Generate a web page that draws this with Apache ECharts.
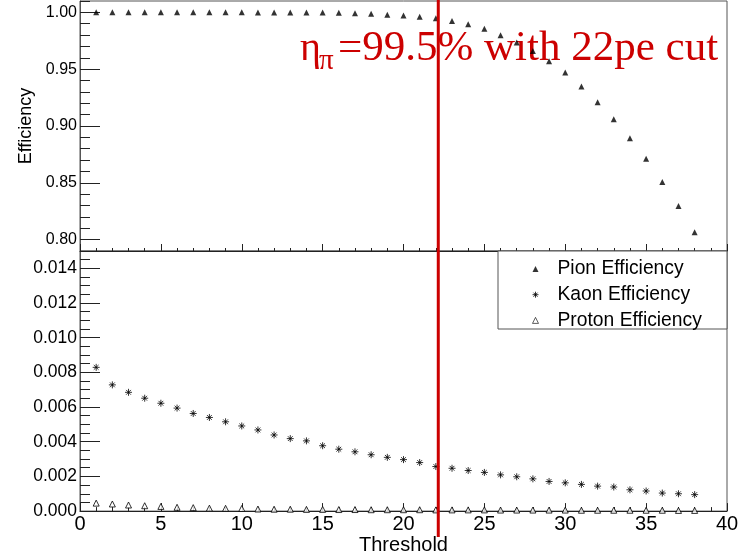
<!DOCTYPE html>
<html>
<head>
<meta charset="utf-8">
<script src="https://cdn.jsdelivr.net/npm/echarts@6/dist/echarts.min.js"></script>
<style>
html,body{margin:0;padding:0;background:#fff;}
#chart{width:742px;height:556px;}
</style>
</head>
<body>
<div id="chart"></div>
<script>
// ---- data ----
const thresholds = [1,2,3,4,5,6,7,8,9,10,11,12,13,14,15,16,17,18,19,20,21,22,23,24,25,26,27,28,29,30,31,32,33,34,35,36,37,38];
const pionEff = [1.0000,1.0000,1.0000,1.0000,1.0000,1.0000,1.0000,1.0000,1.0000,1.0000,
  0.9999,0.9999,0.9999,0.9998,0.9998,0.9996,0.9992,0.9988,0.9980,0.9972,
  0.9962,0.9948,0.9925,0.9895,0.9855,0.9798,0.9735,0.9660,0.9570,0.9470,
  0.9348,0.9210,0.9060,0.8893,0.8712,0.8507,0.8296,0.8065];
const kaonEff = [0.00829,0.00728,0.00685,0.00651,0.00622,0.00594,0.00563,0.00540,0.00515,0.00491,
  0.00468,0.00439,0.00418,0.00405,0.00377,0.00357,0.00342,0.00325,0.00310,0.00297,
  0.00280,0.00257,0.00247,0.00234,0.00223,0.00209,0.00198,0.00186,0.00171,0.00163,
  0.00154,0.00144,0.00139,0.00123,0.00116,0.00104,0.00100,0.00095];
const protonEff = [0.00046,0.00041,0.00035,0.00031,0.00027,0.00022,0.00020,0.00017,0.00016,0.00015,
  0.00012,0.00011,0.00011,0.00010,0.00010,0.00009,0.00009,0.00008,0.00008,0.00008,
  0.00008,0.00007,0.00007,0.00007,0.00007,0.00006,0.00006,0.00006,0.00006,0.00006,
  0.00005,0.00005,0.00005,0.00005,0.00005,0.00005,0.00004,0.00004];
const seriesNames = ['Pion Efficiency','Kaon Efficiency','Proton Efficiency'];
const topMajorTicks = [0.80,0.85,0.90,0.95,1.00];
const topMinorTicks = [0.79,0.80,0.81,0.82,0.83,0.84,0.85,0.86,0.87,0.88,0.89,0.90,0.91,0.92,0.93,0.94,0.95,0.96,0.97,0.98,0.99,1.00,1.01];
const bottomMajorTicks = [0.000,0.002,0.004,0.006,0.008,0.010,0.012,0.014];
const bottomMinorTicks = [0.0000,0.0005,0.0010,0.0015,0.0020,0.0025,0.0030,0.0035,0.0040,0.0045,0.0050,0.0055,0.0060,0.0065,0.0070,0.0075,0.0080,0.0085,0.0090,0.0095,0.0100,0.0105,0.0110,0.0115,0.0120,0.0125,0.0130,0.0135,0.0140,0.0145,0.0150];
const cutLineX = 22.15;
const annotationEta = 'η';
const annotationSub = 'π';
const annotationRest = '=99.5% with 22pe cut';

// ---- chart ----
const asterisk = 'path://M5,0L5,10M0,5L10,5M1.6,1.6L8.4,8.4M1.6,8.4L8.4,1.6';
const sans = 'Liberation Sans, Arial, Helvetica, sans-serif';
const serif = 'Liberation Serif, Times New Roman, serif';
const frame = '#555';

function zip(xs, ys){ return xs.map((x,i)=>[x, ys[i]]); }

const chart = echarts.init(document.getElementById('chart'), null, {renderer:'canvas'});

const xCommon = {
  type:'value', min:0, max:40, interval:5,
  axisLine:{show:true, lineStyle:{color:'#222', width:1}},
  axisTick:{show:true, inside:true, length:8, lineStyle:{color:'#222'}},
  minorTick:{show:true, splitNumber:5, length:4, lineStyle:{color:'#222'}},
  splitLine:{show:false}
};

const option = {
  animation:false,
  backgroundColor:'#fff',
  grid:[
    {left:80, top:1, width:647, height:250, show:true, borderColor:frame, borderWidth:1, backgroundColor:'transparent'},
    {left:80, top:251, width:647, height:263, show:true, borderColor:frame, borderWidth:1, backgroundColor:'transparent'}
  ],
  xAxis:[
    Object.assign({}, xCommon, {gridIndex:0, position:'bottom', axisLabel:{show:false},
      axisTick:{show:true, inside:true, length:7, lineStyle:{color:'#222'}},
      minorTick:{show:true, splitNumber:5, length:3, lineStyle:{color:'#222'}}}),
    Object.assign({}, xCommon, {gridIndex:1, position:'bottom',
      axisLabel:{show:true, fontSize:20, fontFamily:sans, color:'#000', margin:3},
      name:'Threshold', nameLocation:'middle', nameGap:21,
      nameTextStyle:{fontSize:20, fontFamily:sans, color:'#000'}})
  ],
  yAxis:[
    {type:'value', gridIndex:0, position:'left', min:0.79, max:1.01,
      axisLine:{show:true, lineStyle:{color:frame}},
      axisLabel:{show:true, customValues:topMajorTicks, formatter:v=>v.toFixed(2), fontSize:16, fontFamily:sans, color:'#000', margin:3},
      axisTick:{show:true, inside:true, length:20, customValues:topMajorTicks, lineStyle:{color:'#222'}},
      splitLine:{show:false},
      name:'Efficiency', nameLocation:'middle', nameGap:44,
      nameTextStyle:{fontSize:18, fontFamily:sans, color:'#000'}},
    {type:'value', gridIndex:0, position:'left', min:0.79, max:1.01,
      axisLine:{show:false}, axisLabel:{show:false},
      axisTick:{show:true, inside:true, length:10, customValues:topMinorTicks, lineStyle:{color:'#222'}},
      splitLine:{show:false}},
    {type:'value', gridIndex:1, position:'left', min:0, max:0.015,
      axisLine:{show:true, lineStyle:{color:frame}},
      axisLabel:{show:true, customValues:bottomMajorTicks, formatter:v=>v.toFixed(3), fontSize:17.5, fontFamily:sans, color:'#000', margin:3},
      axisTick:{show:true, inside:true, length:20, customValues:bottomMajorTicks, lineStyle:{color:'#222'}},
      splitLine:{show:false}},
    {type:'value', gridIndex:1, position:'left', min:0, max:0.015,
      axisLine:{show:false}, axisLabel:{show:false},
      axisTick:{show:true, inside:true, length:10, customValues:bottomMinorTicks, lineStyle:{color:'#222'}},
      splitLine:{show:false}}
  ],
  legend:{
    orient:'vertical', left:525, top:254,
    itemWidth:6, itemHeight:6, itemGap:5.7,
    textStyle:{fontSize:19.3, fontFamily:sans, color:'#000', lineHeight:20, padding:[0,0,0,14]},
    data:[
      {name:seriesNames[0], icon:'triangle', itemStyle:{color:'#000'}},
      {name:seriesNames[1], icon:asterisk, itemStyle:{color:'none', borderColor:'#000', borderWidth:1}},
      {name:seriesNames[2], icon:'triangle', itemStyle:{color:'#fff', borderColor:'#000', borderWidth:0.8}}
    ],
    selectedMode:false
  },
  series:[
    {name:seriesNames[0], type:'scatter', xAxisIndex:0, yAxisIndex:0,
      symbol:'triangle', symbolSize:6, itemStyle:{color:'#000'},
      data:zip(thresholds, pionEff), z:3},
    {name:seriesNames[1], type:'scatter', xAxisIndex:1, yAxisIndex:2,
      symbol:asterisk, symbolSize:7, itemStyle:{color:'none', borderColor:'#000', borderWidth:1},
      data:zip(thresholds, kaonEff), z:3},
    {name:seriesNames[2], type:'scatter', xAxisIndex:1, yAxisIndex:2,
      symbol:'triangle', symbolSize:6, itemStyle:{color:'#fff', borderColor:'#000', borderWidth:1},
      data:zip(thresholds, protonEff), z:3}
  ]
};
chart.setOption(option);

const xpx = chart.convertToPixel({xAxisIndex:1}, cutLineX);
const red = '#cc0000';
const shadow = {shadowColor:'rgba(0,0,0,0.35)', shadowOffsetX:2, shadowOffsetY:2, shadowBlur:1};
chart.setOption({
  graphic:[
    {type:'rect', z:1, shape:{x:498, y:251, width:229, height:78},
      style:{fill:'#fff', stroke:frame, lineWidth:1}},
    {type:'text', z:1, x:300, y:29, style:Object.assign({text:annotationEta, font:'40px '+serif, fill:red}, shadow)},
    {type:'text', z:1, x:319, y:47, style:Object.assign({text:annotationSub, font:'29px '+serif, fill:red}, shadow)},
    {type:'text', z:1, x:338, y:27, style:Object.assign({text:annotationRest, font:'43px '+serif, fill:red}, shadow)},
    {type:'line', z:30, shape:{x1:xpx, y1:0, x2:xpx, y2:537}, style:{stroke:red, lineWidth:3}}
  ]
});
</script>
</body>
</html>
